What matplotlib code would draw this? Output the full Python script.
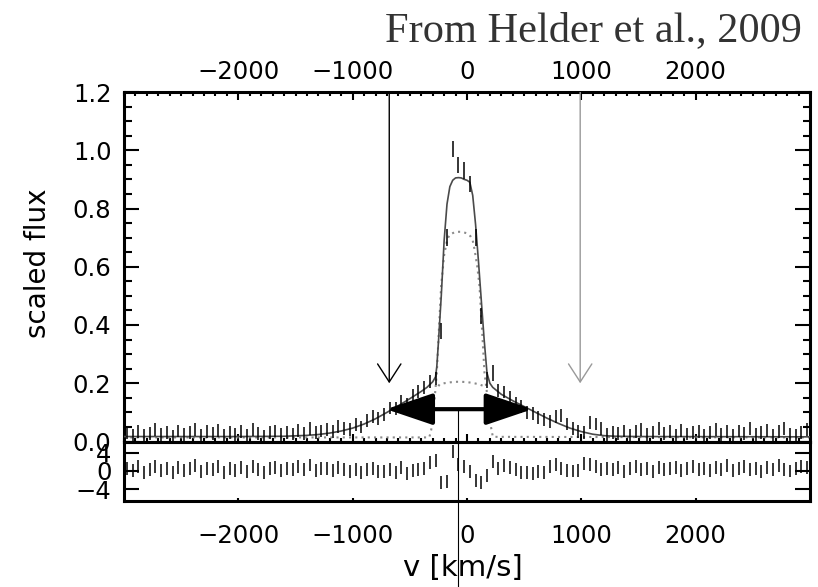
import numpy as np
import matplotlib
matplotlib.use("Agg")
import matplotlib.pyplot as plt
from matplotlib.patches import FancyArrowPatch, ArrowStyle
from matplotlib.ticker import MultipleLocator, FixedLocator, FormatStrFormatter

# ---------------- data ----------------
# bin centres of the spectrum [km/s]
v_start, v_step, n_bins = -2975, 50, 120
velocity = [v_start + v_step * i for i in range(n_bins)]

flux = [
    0.030, 0.022, 0.035, 0.020, 0.028, 0.040, 0.025, 0.032, 0.018, 0.036,
    0.024, 0.030, 0.042, 0.021, 0.033, 0.027, 0.038, 0.020, 0.030, 0.025,
    0.034, 0.022, 0.040, 0.028, 0.019, 0.031, 0.036, 0.024, 0.030, 0.026,
    0.038, 0.028, 0.046, 0.030, 0.036, 0.040, 0.034, 0.052, 0.044, 0.040,
    0.058, 0.050, 0.072, 0.085, 0.078, 0.094, 0.115, 0.112, 0.138, 0.128,
    0.158, 0.172, 0.185, 0.206, 0.215, 0.380, 0.700, 1.005, 0.950, 0.930,
    0.885, 0.700, 0.430, 0.210, 0.235, 0.175, 0.170, 0.150, 0.130, 0.120,
    0.100, 0.095, 0.082, 0.075, 0.068, 0.085, 0.090, 0.060, 0.045, 0.035,
    0.030, 0.065, 0.060, 0.045, 0.025, 0.030, 0.028, 0.036, 0.022, 0.033,
    0.040, 0.025, 0.030, 0.045, 0.028, 0.034, 0.020, 0.038, 0.026, 0.031,
    0.035, 0.022, 0.030, 0.041, 0.025, 0.033, 0.020, 0.036, 0.028, 0.045,
    0.024, 0.030, 0.038, 0.022, 0.034, 0.046, 0.025, 0.020, 0.032, 0.040,
]
flux_err = [0.022] * 55 + [0.028] * 10 + [0.022] * 55

residual = [
    0.6, 0.2, 0.9, -0.3, 0.4, 1.0, 0.1, 0.6, -0.4, 0.8,
    0.2, 0.5, 1.1, -0.2, 0.6, 0.3, 0.9, -0.3, 0.5, 0.2,
    0.7, -0.1, 1.0, 0.4, -0.4, 0.6, 0.8, 0.1, 0.5, 0.3,
    0.9, 0.3, 1.3, 0.2, 0.5, 0.6, 0.1, 0.8, 0.3, -0.2,
    0.4, -0.3, 0.3, 0.5, -0.1, -0.2, 0.3, -0.4, 0.7, -0.6,
    0.2, 0.3, 0.5, 1.8, 2.2, -2.5, -2.2, 4.3, 1.5, 1.0,
    -0.1, -2.0, -2.5, -1.0, 2.0, 0.5, 1.2, 0.8, 0.3, -0.4,
    -0.3, -0.6, -0.2, -0.3, 1.0, 1.4, 0.6, 0.2, 0.0, 0.1,
    1.6, 1.5, 1.0, 0.3, 0.5, 0.4, 0.8, -0.2, 0.6, 0.9,
    0.3, 0.5, -0.1, 0.7, 0.3, 0.6, 0.8, 0.2, 0.5, 1.0,
    0.3, 0.6, 0.1, 0.8, 0.4, 1.1, 0.2, 0.5, 0.9, 0.3,
    0.6, -0.1, 0.8, 0.4, 1.2, 0.3, 0.0, 0.6, 1.0, 0.8,
]
residual_err = [1.4] * n_bins

# total model (solid curve)
model_v = [-3000, -2000, -1600, -1400, -1300, -1200, -1100, -1000, -900, -800,
           -700, -600, -500, -400, -350, -300, -275, -264, -250, -225, -200,
           -175, -150, -125, -100, -75, -50, -25, 0, 25, 50, 75, 100, 125,
           150, 175, 200, 225, 250, 300, 400, 500, 600, 700, 800, 900, 1000,
           1100, 1200, 1300, 1500, 3000]
model_f = [0.017, 0.017, 0.018, 0.021, 0.024, 0.029, 0.036, 0.046, 0.060, 0.078,
           0.100, 0.123, 0.147, 0.172, 0.186, 0.205, 0.222, 0.258, 0.34, 0.50, 0.69,
           0.815, 0.875, 0.897, 0.905, 0.906, 0.905, 0.900, 0.897, 0.890, 0.845, 0.745, 0.62, 0.485,
           0.35, 0.235, 0.200, 0.186, 0.178, 0.162, 0.140, 0.120, 0.100, 0.080, 0.062, 0.046, 0.034,
           0.025, 0.020, 0.018, 0.017, 0.016]

# narrow component (dotted)
narrow_v = [-3000, -330, -313, -300, -284, -264, -247, -226, -200, -175, -153, -100,
            -50, 0, 30, 50, 66, 90, 109, 133, 153, 182, 205, 226, 3000]
narrow_f = [0.014, 0.014, 0.040, 0.090, 0.143, 0.236, 0.374, 0.535, 0.640, 0.690, 0.710, 0.720,
            0.720, 0.715, 0.705, 0.690, 0.660, 0.600, 0.535, 0.374, 0.236, 0.143, 0.060, 0.016, 0.014]

# broad component (dotted dome)
broad_v = [-250, -240, -200, -150, -100, -50, 0, 50, 100, 136]
broad_f = [0.190, 0.196, 0.200, 0.203, 0.205, 0.205, 0.204, 0.201, 0.197, 0.192]

# annotations
arrow_left_v, arrow_right_v = -680, 990
arrow_top, arrow_tip = 1.2, 0.2
width_left, width_right, width_level = -707, 573, 0.111
centre_v = -75

xticks = [-2000, -1000, 0, 1000, 2000]
yticks = [0.0, 0.2, 0.4, 0.6, 0.8, 1.0, 1.2]
rticks = [-4, 0, 4]

# ---------------- figure ----------------
W, H = 818, 587
fig = plt.figure(figsize=(W / 100, H / 100), dpi=100)
fig.patch.set_facecolor("white")

def box(l, r, t, b):
    return [l / W, 1 - b / H, (r - l) / W, (b - t) / H]

ax = fig.add_axes(box(124, 810, 92, 441.5))
axr = fig.add_axes(box(124, 810, 441.5, 500.5))
for a in (ax, axr):
    a.patch.set_alpha(0)
    for s in a.spines.values():
        s.set_linewidth(2.2)

tick_family, tick_size = "DejaVu Sans", 17.5

# main panel
ax.plot(model_v, model_f, color="#4a4a4a", lw=1.2, zorder=3)
ax.plot(narrow_v, narrow_f, color="#8a8a8a", lw=1.5, ls=(0, (1, 2.0)), zorder=2)
ax.plot(broad_v, broad_f, color="#8a8a8a", lw=1.5, ls=(0, (1, 2.0)), zorder=2)
ax.errorbar(velocity, flux, yerr=flux_err, fmt="none", ecolor="black",
            elinewidth=1.1, capsize=0, zorder=4)

ax.set_xlim(-3000, 3000)
ax.set_ylim(0, 1.2)
ax.xaxis.set_major_locator(FixedLocator(xticks))
ax.xaxis.set_minor_locator(MultipleLocator(100))
ax.yaxis.set_major_locator(FixedLocator(yticks))
ax.yaxis.set_minor_locator(MultipleLocator(0.05))
ax.yaxis.set_major_formatter(FormatStrFormatter("%.1f"))
ax.tick_params(axis="x", which="both", direction="in", top=True, bottom=True,
               labeltop=True, labelbottom=False, width=1.5, pad=6)
ax.tick_params(axis="x", which="major", length=5.5)
ax.tick_params(axis="x", which="minor", length=2.6)
ax.tick_params(axis="y", which="both", direction="in", left=True, right=True,
               width=1.5, pad=9)
ax.tick_params(axis="y", which="major", length=10.8)
ax.tick_params(axis="y", which="minor", length=5.4)
for lab in ax.get_xticklabels() + ax.get_yticklabels():
    lab.set_fontfamily(tick_family)
    lab.set_fontsize(tick_size)
ax.set_ylabel("scaled flux", fontsize=20, family="DejaVu Sans")
ax.yaxis.set_label_coords(-0.105, 0.51)

# down arrows (open heads)
for xv, col in ((arrow_left_v, "black"), (arrow_right_v, "#999999")):
    ax.add_patch(FancyArrowPatch((xv, arrow_top), (xv, arrow_tip),
                 arrowstyle=ArrowStyle("->", head_length=13.0, head_width=8.4),
                 mutation_scale=1, color=col, lw=1.0, shrinkA=0, shrinkB=0,
                 zorder=5))

# width double arrow
ax.add_patch(FancyArrowPatch((width_left, width_level), (width_right, width_level),
             arrowstyle=ArrowStyle("<|-|>", head_length=29.0, head_width=9.8),
             mutation_scale=1, color="black", lw=3.0, shrinkA=0, shrinkB=0,
             zorder=6))
# thin vertical marker line down to bottom of figure
ax.plot([centre_v, centre_v], [width_level, -0.6], color="black", lw=0.8,
        clip_on=False, zorder=7)

# residual panel
axr.errorbar(velocity, residual, yerr=residual_err, fmt="none", ecolor="black",
             elinewidth=1.1, capsize=0)
axr.set_xlim(-3000, 3000)
axr.set_ylim(-6.4, 6.4)
axr.xaxis.set_major_locator(FixedLocator(xticks))
axr.yaxis.set_major_locator(FixedLocator(rticks))
axr.tick_params(axis="x", which="major", direction="in", top=False, bottom=True,
                length=2.2, width=1.5, pad=17)
axr.tick_params(axis="y", which="major", direction="in", left=True, right=True,
                length=10.8, width=1.5, pad=9)
for lab in axr.get_xticklabels() + axr.get_yticklabels():
    lab.set_fontfamily(tick_family)
    lab.set_fontsize(tick_size)
axr.set_xlabel("v [km/s]", fontsize=21, family="DejaVu Sans")
axr.xaxis.set_label_coords(0.494, -0.9)

fig.text(385 / W, 1 - 41 / H, "From Helder et al., 2009", family="Liberation Serif",
         fontsize=30.5, color="#333333", ha="left", va="baseline")

fig.savefig("out.png", dpi=100)
